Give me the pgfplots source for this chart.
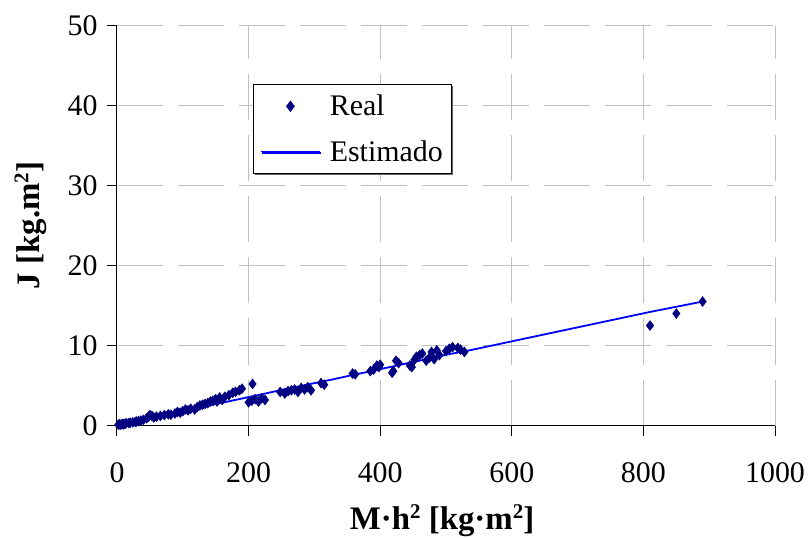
\documentclass[border=0pt]{standalone}
\usepackage{fontspec}
\setmainfont{Liberation Serif}
\usepackage{pgfplots}
\pgfplotsset{compat=1.18}
\usetikzlibrary{shadows}
\definecolor{navy}{RGB}{0,0,128}
\definecolor{gridgray}{RGB}{192,192,192}
\newcommand{\sq}{\raisebox{11bp}{\fontsize{21}{21}\selectfont 2}}
\pgfplotsset{
  realleg/.style={legend image code/.code={\draw[mark repeat=2,mark phase=2,##1] plot coordinates {(0bp,0bp) (29.5bp,0bp) (59bp,0bp)};}},
  estleg/.style={legend image code/.code={\draw[##1] (0bp,0bp) -- (59bp,0bp);}},
}
\begin{document}
\begin{tikzpicture}
\begin{axis}[
  at={(0,0)}, anchor=south west,
  scale only axis, width=658bp, height=399.8bp,
  xmin=0, xmax=1000, ymin=0, ymax=50,
  xtick={0,200,...,1000}, ytick={0,10,...,50},
  scaled ticks=false,
  axis lines=left, axis line style={-, black, line width=1bp},
  tick align=outside, major tick length=10bp, tick style={black, line width=1bp},
  grid=major, major grid style={gridgray, line width=1bp, dash pattern=on 46bp off 15bp},
  /pgf/number format/assume math mode=true,
  /pgf/number format/1000 sep={},
  ticklabel style={font=\fontsize{30}{36}\selectfont},
  xticklabel style={yshift=-24bp},
  yticklabel style={xshift=-6bp},
  xlabel={M·h\sq{} [kg·m\sq]},
  ylabel={J [kg.m\sq]},
  label style={font=\fontsize{33}{40}\selectfont\bfseries},
  xlabel style={at={(axis description cs:0.494,-0.261)}, anchor=base},
  ylabel style={at={(axis description cs:-0.118,0.5)}, anchor=base},
  legend style={at={(rel axis cs:0.206,0.855)}, anchor=north west, draw=black, line width=1bp, fill=white,
    drop shadow={shadow xshift=1.5bp, shadow yshift=-1.5bp, fill=black!60, opacity=1},
    font=\fontsize{30}{36}\selectfont, inner xsep=7bp, inner ysep=9bp, row sep=19bp, column sep=7bp},
  legend cell align=left,
]
\addplot[only marks, mark=diamond*, mark size=5bp, color=navy, realleg]
coordinates {
(2,0.1) (4,0.15) (6,0.1) (8,0.2) (10,0.15) (12,0.2) (14,0.3) (18,0.3) (20,0.35) (24,0.4)
(28,0.45) (30,0.5) (33,0.55) (36,0.6) (40,0.7) (45,0.9) (48,1.1) (50,1.3) (53,1.2) (56,1.0)
(60,1.1) (66,1.2) (72,1.3) (78,1.4) (82,1.35) (88,1.5) (92,1.7) (96,1.6) (100,1.8) (104,2.0)
(108,1.9) (112,2.1) (118,2.0) (122,2.3) (126,2.5) (130,2.6) (134,2.7) (138,2.8) (142,3.0) (146,3.1)
(150,3.3) (152,3.0) (156,3.5) (160,3.2) (164,3.6) (170,3.8) (176,4.1) (180,4.2) (186,4.4) (190,4.6)
(206,5.2) (200,2.9) (205,3.1) (210,3.3) (215,3.0) (220,3.4) (225,3.2)
(248,4.2) (255,4.0) (260,4.3) (265,4.4) (270,4.5) (275,4.2) (280,4.7) (285,4.5) (290,4.8) (295,4.4)
(310,5.3) (315,5.1)
(358,6.5) (362,6.4) (385,6.8) (390,7.0) (395,7.5) (398,7.3) (400,7.6) (418,6.6) (420,6.8) (424,8.1)
(428,7.8) (445,7.5) (448,7.3) (452,8.2) (455,8.6) (460,8.8) (464,9.0) (470,8.1) (475,8.5) (478,9.2)
(482,8.3) (486,9.4) (490,8.8) (500,9.3) (505,9.6) (510,9.8) (518,9.7) (522,9.5) (528,9.2)
(810,12.5) (850,14.0) (890,15.5)
};
\addlegendentry{Real}
\addplot[color=blue, line width=1.8bp, no marks, estleg]
coordinates {
(0,0.05) (20,0.4) (40,0.75) (60,1.1) (80,1.45) (100,1.8) (120,2.15) (140,2.5) (160,2.85) (180,3.2)
(200,3.55) (220,3.9) (250,4.45) (280,4.95) (300,5.3) (330,5.8) (360,6.35) (390,6.85) (400,7.05)
(420,7.4) (450,7.95) (480,8.45) (500,8.85) (530,9.3) (810,14.2) (850,14.85) (890,15.5)
};
\addlegendentry{Estimado\hspace{12bp}}
\end{axis}
\pgfresetboundingbox
\useasboundingbox (-117bp,-112.5bp) rectangle (692bp,425.5bp);
\end{tikzpicture}
\end{document}
